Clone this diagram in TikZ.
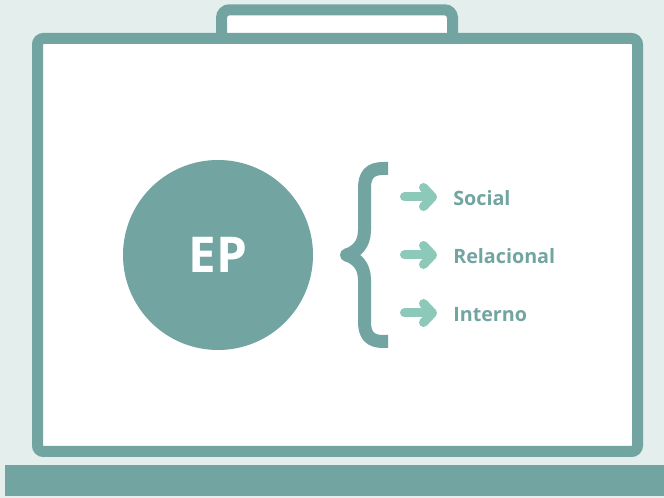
\documentclass[tikz,border=0pt]{standalone}
\usepackage{fontspec}
\setmainfont{Open Sans}
\usetikzlibrary{arrows.meta}
\definecolor{TealFrame}{RGB}{114,165,162}
\definecolor{MintArrow}{RGB}{141,201,184}
\definecolor{PaleBack}{RGB}{228,238,236}
\tikzset{
  frameline/.style={draw=TealFrame, line width=8.25pt, fill=white},
  epcircle/.style={circle, fill=TealFrame, minimum size=142.5pt, inner sep=0pt, text=white, font=\fontsize{37}{40}\selectfont\bfseries},
  itemtext/.style={anchor=base west, inner sep=0pt, text=TealFrame, font=\fontsize{14.8}{18}\selectfont\bfseries},
  arrowline/.style={draw=MintArrow, line width=6.75pt, line cap=round, shorten >=12pt, -{Straight Barb[round, length=6.75pt, width=14.25pt]}},
}

\begin{document}
\begin{tikzpicture}[x=0.75pt,y=0.75pt,yscale=-1,xscale=1]
\useasboundingbox (0,0) rectangle (664,498);
\fill[PaleBack] (0,0) rectangle (664,498);

%Shape: Tab
\draw[frameline, rounded corners=6pt] (221.5,9.8) rectangle (452.5,60);
%Shape: Screen
\draw[frameline, rounded corners=4.5pt] (37.5,38.5) rectangle (637.5,451.5);
%Shape: Bar
\fill[TealFrame] (5,465) rectangle (664,496);

%Shape: Circle
\node[epcircle] (ep) at (218,255) {EP};

%Shape: Brace
\draw[draw=TealFrame, line width=9.75pt, line join=round] (388,168.5) -- (383,168.5) .. controls (370,168.5) and (364.5,175) .. (364.5,188) -- (364.5,230) .. controls (364.5,245) and (356,252) .. (346.5,255) .. controls (356,258) and (364.5,265) .. (364.5,280) -- (364.5,322) .. controls (364.5,335) and (370,341.5) .. (383,341.5) -- (388,341.5);

% Text Node
\node[itemtext] (social) at (453,206) {Social};
% Text Node
\node[itemtext] (relacional) at (453,264) {Relacional};
% Text Node
\node[itemtext] (interno) at (453,322) {Interno};

%Straight Lines
\coordinate (a1) at (404.5,197);
\coordinate (a2) at (404.5,255);
\coordinate (a3) at (404.5,313);
\draw[arrowline] (a1) -- (a1 -| social.west);
\draw[arrowline] (a2) -- (a2 -| relacional.west);
\draw[arrowline] (a3) -- (a3 -| interno.west);

\end{tikzpicture}
\end{document}
